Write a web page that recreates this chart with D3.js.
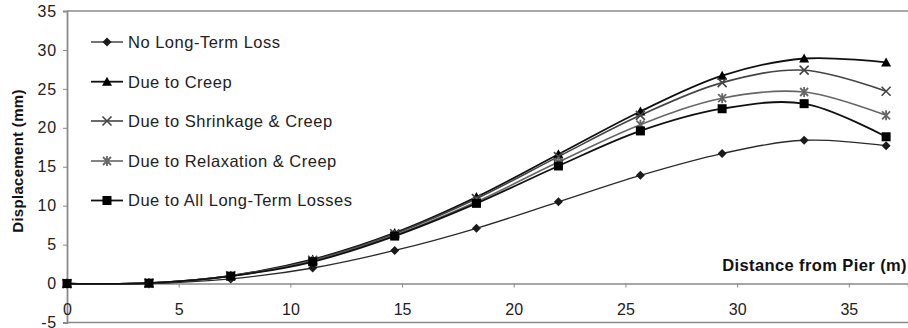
<!DOCTYPE html>
<html>
<head>
<meta charset="utf-8">
<script src="https://cdn.jsdelivr.net/npm/d3@7"></script>
<style>
  html, body { margin: 0; padding: 0; background: #fff; }
  svg { display: block; font-family: "Liberation Sans", Arial, sans-serif; }
</style>
</head>
<body>
<svg id="chart" width="908" height="328"></svg>
<script>
// Distance from pier (m) at each station
const distance = [0, 3.67, 7.33, 11, 14.67, 18.33, 22, 25.67, 29.33, 33, 36.67];

// Displacement (mm) for each loss case
const noLongTermLoss   = [0, 0, 0.6, 2.0, 4.25, 7.1, 10.5, 13.9, 16.7, 18.4, 17.7];
const dueToCreep       = [0, 0.05, 1.0, 3.1, 6.5, 11.1, 16.6, 22.1, 26.7, 28.9, 28.4];
const shrinkageCreep   = [0, 0.05, 1.0, 3.0, 6.4, 10.9, 16.3, 21.6, 25.8, 27.4, 24.7];
const relaxationCreep  = [0, 0.05, 0.95, 2.9, 6.2, 10.5, 15.6, 20.4, 23.8, 24.6, 21.6];
const allLosses        = [0, 0.05, 0.95, 2.8, 6.1, 10.3, 15.1, 19.6, 22.45, 23.1, 18.85];

const seriesNames = [
  "No Long-Term Loss",
  "Due to Creep",
  "Due to Shrinkage & Creep",
  "Due to Relaxation & Creep",
  "Due to All Long-Term Losses"
];

const xTicks = [0, 5, 10, 15, 20, 25, 30, 35];
const yTicks = [-5, 0, 5, 10, 15, 20, 25, 30, 35];

const series = [
  { name: seriesNames[0], values: noLongTermLoss,  color: "#2a2a2a", width: 1.3, marker: "diamond",  mcolor: "#1a1a1a" },
  { name: seriesNames[1], values: dueToCreep,      color: "#111",    width: 1.8, marker: "triangle", mcolor: "#000" },
  { name: seriesNames[2], values: shrinkageCreep,  color: "#444",    width: 1.6, marker: "cross",    mcolor: "#444" },
  { name: seriesNames[3], values: relaxationCreep, color: "#666",    width: 1.6, marker: "asterisk", mcolor: "#666" },
  { name: seriesNames[4], values: allLosses,       color: "#111",    width: 1.8, marker: "square",   mcolor: "#000" }
];

const svg = d3.select("#chart");
const plotLeft = 67, plotTop = 11, plotBottom = 322.5, plotRight = 908;

const x = d3.scaleLinear().domain([0, 37.65]).range([plotLeft, plotRight]);
const y = d3.scaleLinear().domain([-5, 35]).range([plotBottom, plotTop]);

// Plot area frame (top and bottom edges)
svg.append("line").attr("x1", plotLeft).attr("x2", plotRight).attr("y1", plotTop).attr("y2", plotTop)
  .attr("stroke", "#8a8a8a").attr("stroke-width", 1.6);
svg.append("line").attr("x1", plotLeft).attr("x2", plotRight).attr("y1", plotBottom).attr("y2", plotBottom)
  .attr("stroke", "#8a8a8a").attr("stroke-width", 1.6);

// Y axis
const yAxis = svg.append("g").attr("transform", `translate(${plotLeft},0)`)
  .call(d3.axisLeft(y).tickValues(yTicks).tickSize(4).tickPadding(6).tickFormat(d => String(d)));
yAxis.select(".domain").attr("stroke", "#8a8a8a").attr("stroke-width", 1.8);
yAxis.selectAll(".tick line").attr("stroke", "#8a8a8a");
yAxis.selectAll(".tick text").attr("font-size", 16).attr("fill", "#222")
  .attr("letter-spacing", 0.8)
  .attr("font-family", "Liberation Sans, Arial, sans-serif");

// X axis crossing at zero, labels sit below it
const xAxis = svg.append("g").attr("transform", `translate(0,${y(0)})`)
  .call(d3.axisBottom(x).tickValues(xTicks).tickSize(4).tickPadding(16).tickFormat(d => String(d)));
xAxis.select(".domain").attr("stroke", "#8a8a8a").attr("stroke-width", 1.6);
xAxis.selectAll(".tick line").attr("stroke", "#8a8a8a");
xAxis.selectAll(".tick text").attr("font-size", 16).attr("fill", "#222")
  .attr("font-family", "Liberation Sans, Arial, sans-serif");

// Axis titles
svg.append("text")
  .attr("transform", `translate(23,161) rotate(-90)`)
  .attr("text-anchor", "middle")
  .attr("font-size", 15).attr("font-weight", "bold").attr("fill", "#111")
  .attr("letter-spacing", 0.3)
  .text("Displacement (mm)");
svg.append("text")
  .attr("x", 907).attr("y", 271)
  .attr("text-anchor", "end")
  .attr("font-size", 16.5).attr("font-weight", "bold").attr("fill", "#111")
  .attr("letter-spacing", 0.4)
  .text("Distance from Pier (m)");

// Marker shapes
function drawMarker(g, type, cx, cy, color) {
  if (type === "diamond") {
    g.append("path").attr("d", `M${cx},${cy - 4.5}L${cx + 4.5},${cy}L${cx},${cy + 4.5}L${cx - 4.5},${cy}Z`).attr("fill", color);
  } else if (type === "triangle") {
    g.append("path").attr("d", `M${cx},${cy - 5}L${cx + 5},${cy + 4}L${cx - 5},${cy + 4}Z`).attr("fill", color);
  } else if (type === "square") {
    g.append("rect").attr("x", cx - 4.5).attr("y", cy - 4.5).attr("width", 9).attr("height", 9).attr("fill", color);
  } else if (type === "cross") {
    g.append("path").attr("d", `M${cx - 4.5},${cy - 4.5}L${cx + 4.5},${cy + 4.5}M${cx - 4.5},${cy + 4.5}L${cx + 4.5},${cy - 4.5}`)
      .attr("stroke", color).attr("stroke-width", 1.6).attr("fill", "none");
  } else if (type === "asterisk") {
    g.append("path").attr("d", `M${cx - 4},${cy - 4}L${cx + 4},${cy + 4}M${cx - 4},${cy + 4}L${cx + 4},${cy - 4}M${cx},${cy - 5}L${cx},${cy + 5}`)
      .attr("stroke", color).attr("stroke-width", 1.8).attr("fill", "none");
  }
}

// Smoothed series lines with markers
const line = d3.line()
  .x((d, i) => x(distance[i]))
  .y(d => y(d))
  .curve(d3.curveCatmullRom.alpha(0.5));

const plot = svg.append("g");
series.forEach(s => {
  plot.append("path").datum(s.values)
    .attr("d", line)
    .attr("fill", "none")
    .attr("stroke", s.color)
    .attr("stroke-width", s.width);
});
series.forEach(s => {
  const g = plot.append("g");
  s.values.forEach((v, i) => drawMarker(g, s.marker, x(distance[i]), y(v), s.mcolor));
});

// Legend
const legendY = [42, 81.7, 121, 161, 200.5];
series.forEach((s, i) => {
  const g = svg.append("g");
  g.append("line").attr("x1", 91).attr("x2", 123).attr("y1", legendY[i]).attr("y2", legendY[i])
    .attr("stroke", s.color).attr("stroke-width", s.width);
  drawMarker(g, s.marker, 107, legendY[i], s.mcolor);
  g.append("text").attr("x", 128).attr("y", legendY[i]).attr("dy", "0.36em")
    .attr("font-size", 16.5).attr("letter-spacing", 0.5)
    .attr("fill", "#222").text(s.name);
});
</script>
</body>
</html>
